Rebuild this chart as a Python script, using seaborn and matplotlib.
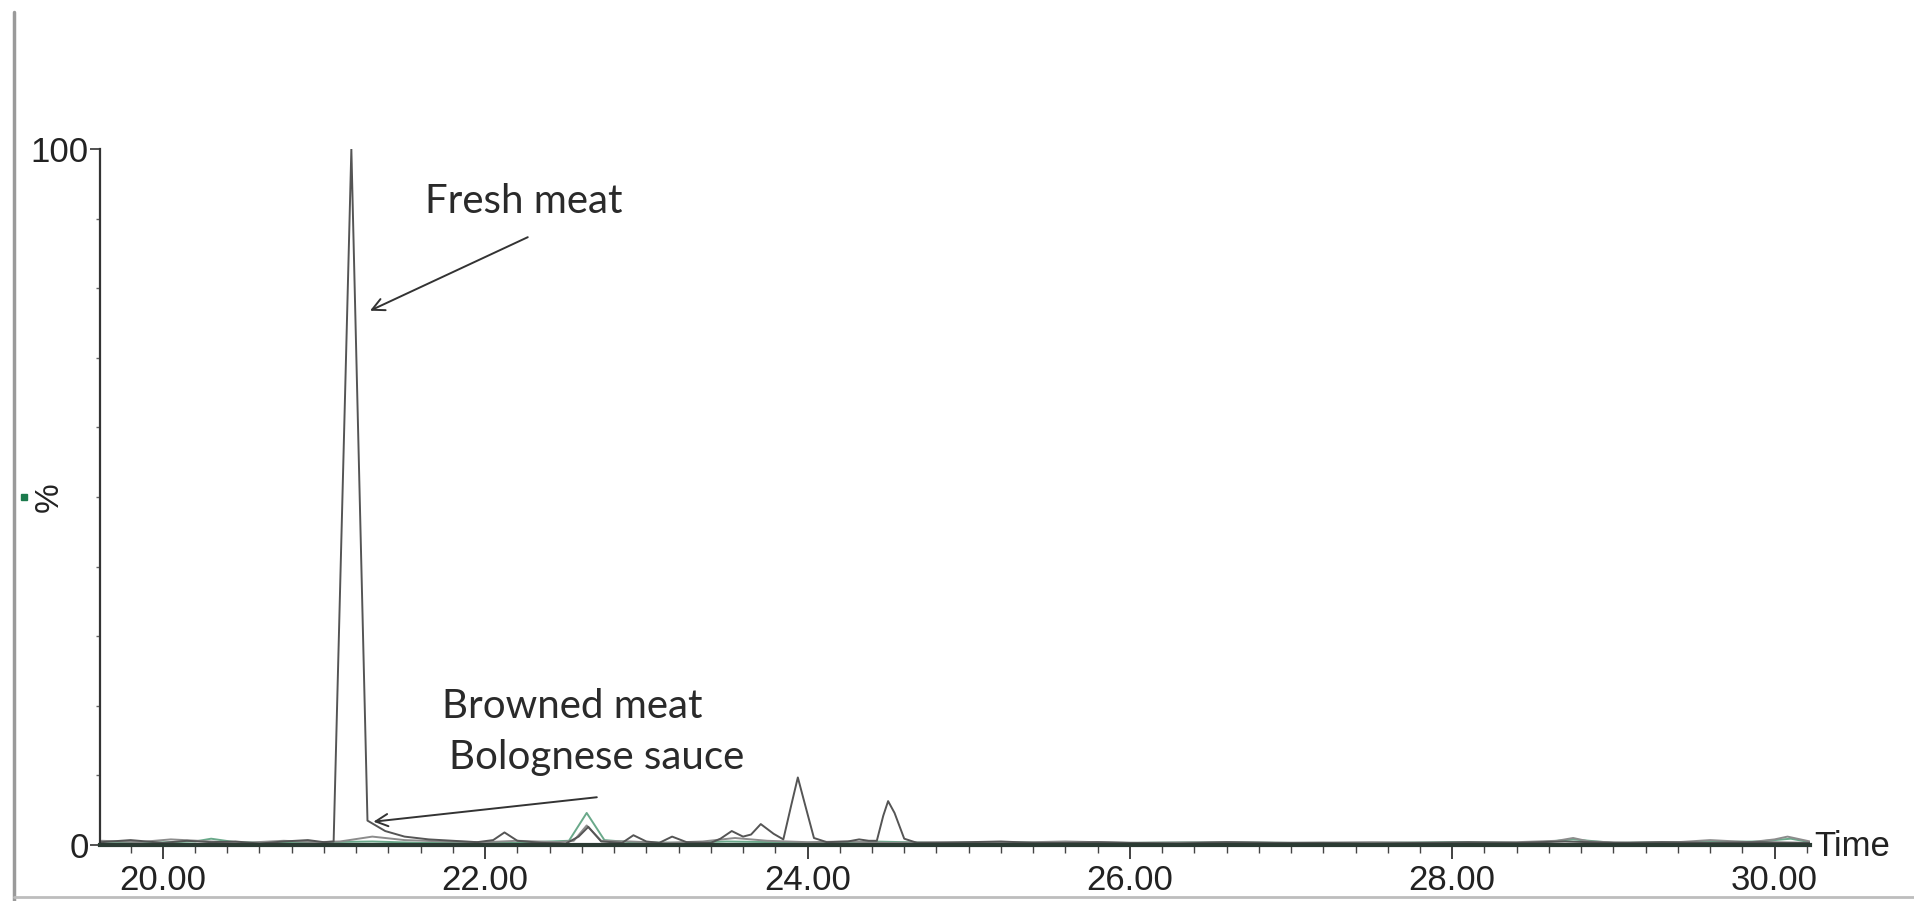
import numpy as np
import pandas as pd
import matplotlib
matplotlib.use("Agg")
import matplotlib.pyplot as plt
import seaborn as sns
from matplotlib.lines import Line2D
from matplotlib.ticker import MultipleLocator, FixedLocator

# ------------------------------------------------------------------------
# 1. Chromatogram traces (time in min, intensity in %)
# ------------------------------------------------------------------------
fresh_time = [19.62, 19.8, 20.0, 20.15, 20.3, 20.45, 20.6, 20.75, 20.9, 21.0,
              21.06, 21.17, 21.27, 21.38, 21.5, 21.65, 21.8, 21.95, 22.05, 22.12,
              22.2, 22.35, 22.5, 22.58, 22.64, 22.72, 22.85, 22.92, 23.0, 23.08,
              23.16, 23.25, 23.4, 23.46, 23.53, 23.6, 23.65, 23.71, 23.79, 23.85,
              23.9, 23.94, 23.98, 24.04, 24.12, 24.25, 24.32, 24.38, 24.43, 24.47,
              24.5, 24.54, 24.6, 24.68, 24.8, 25.0, 25.2, 25.4, 25.6, 25.8,
              26.0, 26.3, 26.6, 26.9, 27.2, 27.5, 27.8, 28.1, 28.4, 28.7,
              29.0, 29.3, 29.6, 29.9, 30.22]
fresh_pct = [0.4, 0.7, 0.3, 0.6, 0.4, 0.5, 0.2, 0.5, 0.7, 0.4,
             0.5, 100.0, 3.5, 2.0, 1.2, 0.8, 0.6, 0.4, 0.7, 1.8,
             0.6, 0.3, 0.2, 1.2, 2.6, 0.5, 0.3, 1.4, 0.5, 0.3,
             1.2, 0.4, 0.3, 0.9, 2.0, 1.2, 1.5, 3.0, 1.6, 0.8,
             5.8, 9.7, 6.2, 1.0, 0.4, 0.5, 0.8, 0.6, 0.6, 4.2,
             6.3, 4.6, 0.9, 0.3, 0.3, 0.4, 0.5, 0.3, 0.3, 0.4,
             0.3, 0.2, 0.4, 0.3, 0.3, 0.2, 0.3, 0.4, 0.3, 0.5,
             0.3, 0.4, 0.3, 0.4, 0.3]

browned_time = [19.62, 19.85, 20.05, 20.3, 20.5, 20.75, 20.95, 21.1, 21.3, 21.5,
                21.75, 22.0, 22.2, 22.45, 22.55, 22.63, 22.72, 22.9, 23.1, 23.35,
                23.55, 23.75, 24.0, 24.25, 24.5, 24.8, 25.2, 25.6, 26.0, 26.5,
                27.0, 27.5, 28.0, 28.4, 28.65, 28.75, 28.85, 29.1, 29.4, 29.6,
                29.85, 30.0, 30.08, 30.22]
browned_pct = [0.6, 0.4, 0.8, 0.5, 0.3, 0.6, 0.4, 0.5, 1.2, 0.7,
               0.5, 0.4, 0.6, 0.4, 0.6, 2.8, 0.6, 0.5, 0.3, 0.5,
               1.0, 0.6, 0.4, 0.5, 0.3, 0.4, 0.3, 0.5, 0.3, 0.4,
               0.3, 0.4, 0.3, 0.4, 0.6, 1.0, 0.5, 0.3, 0.4, 0.7,
               0.4, 0.8, 1.2, 0.5]

sauce_time = [19.62, 19.9, 20.2, 20.3, 20.45, 20.7, 21.0, 21.3, 21.6, 21.9,
              22.2, 22.4, 22.52, 22.63, 22.74, 22.9, 23.2, 23.5, 23.8, 24.1,
              24.4, 24.8, 25.2, 25.6, 26.0, 26.5, 27.0, 27.5, 28.0, 28.5,
              28.75, 29.0, 29.5, 29.9, 30.1, 30.22]
sauce_pct = [0.5, 0.3, 0.5, 0.9, 0.4, 0.3, 0.4, 0.5, 0.3, 0.4,
             0.3, 0.5, 0.6, 4.6, 0.7, 0.4, 0.3, 0.5, 0.4, 0.3,
             0.5, 0.3, 0.4, 0.3, 0.3, 0.4, 0.3, 0.3, 0.4, 0.3,
             0.8, 0.3, 0.4, 0.5, 0.9, 0.4]

trace_names = ["Fresh meat", "Browned meat", "Bolognese sauce"]
trace_colors = ["#555555", "#8c8c8c", "#6aa98a"]

x_ticks = [20, 22, 24, 26, 28, 30]
y_ticks = [0, 100]

df = pd.concat([
    pd.DataFrame({"time": fresh_time, "pct": fresh_pct, "trace": trace_names[0]}),
    pd.DataFrame({"time": browned_time, "pct": browned_pct, "trace": trace_names[1]}),
    pd.DataFrame({"time": sauce_time, "pct": sauce_pct, "trace": trace_names[2]}),
], ignore_index=True)

# ------------------------------------------------------------------------
# 2. Plot
# ------------------------------------------------------------------------
sns.set_theme(style="white")
plt.rcParams['font.family'] = ['Liberation Sans', 'DejaVu Sans']

fig = plt.figure(figsize=(19.14, 9.01), dpi=100)
ax = fig.add_axes([0.0522, 0.0622, 0.8935, 0.7724])

sns.lineplot(data=df, x="time", y="pct", hue="trace", hue_order=trace_names[::-1],
             palette=dict(zip(trace_names, trace_colors)), estimator=None,
             sort=False, legend=False, linewidth=1.4, ax=ax)

ax.set_xlim(19.61, 30.22)
ax.set_ylim(0, 100)
ax.set_xlabel("")
ax.set_ylabel("")

for side in ["top", "right"]:
    ax.spines[side].set_visible(False)
ax.spines["left"].set_color("#333333")
ax.spines["left"].set_linewidth(1.6)
ax.spines["bottom"].set_color("#2b3b33")
ax.spines["bottom"].set_linewidth(3)

ax.xaxis.set_major_locator(FixedLocator(x_ticks))
ax.set_xticklabels([f"{t:.2f}" for t in x_ticks])
ax.xaxis.set_minor_locator(MultipleLocator(0.2))
ax.yaxis.set_major_locator(FixedLocator(y_ticks))
ax.set_yticklabels([str(t) for t in y_ticks])
ax.yaxis.set_minor_locator(MultipleLocator(10))

ax.tick_params(axis="x", which="major", direction="out", length=10, width=1.3,
               color="#333333", labelsize=25, labelcolor="#222222", pad=4, bottom=True)
ax.tick_params(axis="x", which="minor", direction="out", length=6, width=1.0,
               color="#444444", bottom=True)
ax.tick_params(axis="y", which="major", direction="out", length=7, width=1.2,
               color="#333333", labelsize=25, labelcolor="#222222", pad=1, left=True)
ax.tick_params(axis="y", which="minor", direction="out", length=3, width=1.0,
               color="#666666", left=True)

# annotations
ann_font = dict(family=["Lato", "DejaVu Sans"], size=29, color="#2a2a2a")
ax.text(22.24, 92.4, "Fresh meat", ha="center", va="center", **ann_font)
ax.annotate("", xy=(21.27, 76.6), xytext=(22.28, 87.5),
            arrowprops=dict(arrowstyle="->", color="#333333", lw=1.4,
                            mutation_scale=22))
ax.text(22.54, 19.9, "Browned meat", ha="center", va="center", **ann_font)
ax.text(22.69, 12.5, "Bolognese sauce", ha="center", va="center", **ann_font)
ax.annotate("", xy=(21.29, 3.3), xytext=(22.71, 6.9),
            arrowprops=dict(arrowstyle="->", color="#333333", lw=1.4,
                            mutation_scale=22))

fig.text(0.948, 0.061, "Time", ha="left", va="center", size=25, color="#222222")
fig.text(0.0256, 0.4484, "%", ha="center", va="center", rotation=90,
         size=24, color="#222222")
fig.add_artist(Line2D([0.0125], [0.4484], marker="s", ms=5, color="#1b7a4c",
                      transform=fig.transFigure))

# page border lines from the source scan
fig.add_artist(Line2D([0.0073, 0.0073], [0.0, 0.987], color="#9a9a9a", lw=2.5,
                      transform=fig.transFigure))
fig.add_artist(Line2D([0.0073, 1.0], [0.004, 0.004], color="#bdbdbd", lw=2,
                      transform=fig.transFigure))

fig.savefig("out.png", dpi=100)
plt.close(fig)
